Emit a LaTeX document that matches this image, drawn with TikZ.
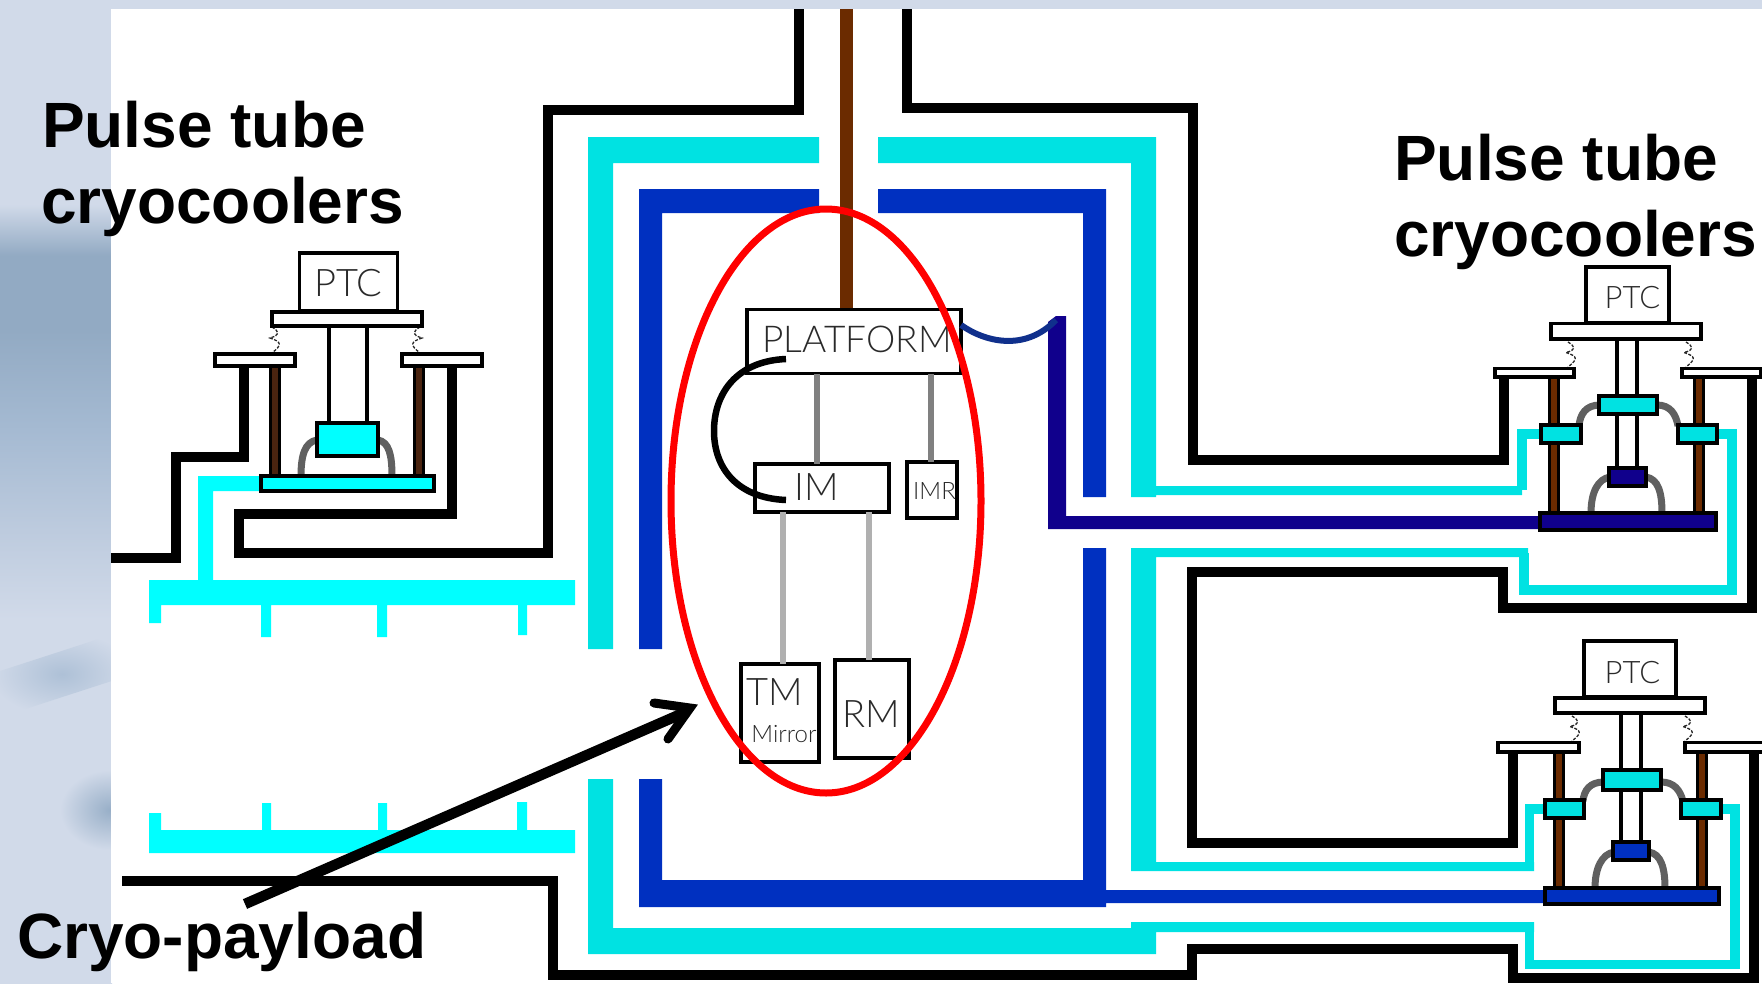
\documentclass[tikz,border=0pt]{standalone}
\usepackage{fontspec}
\setmainfont{Liberation Sans}
\newfontfamily\thinfont{Lato Light}
\definecolor{bgblue}{HTML}{D1DAE9}
\definecolor{bandA}{HTML}{92AAC3}
\definecolor{bandB}{HTML}{A5BAD2}
\definecolor{bandC}{HTML}{BDCBDE}
\definecolor{turq}{HTML}{00E2E2}
\definecolor{cyn}{HTML}{00FFFF}
\definecolor{blu}{HTML}{0030C0}
\definecolor{nvy}{HTML}{10008C}
\definecolor{brn}{HTML}{6B2B00}
\definecolor{dbrn}{HTML}{4A2410}
\definecolor{dgrey}{HTML}{606060}
\definecolor{mgrey}{HTML}{808080}
\definecolor{lgrey}{HTML}{B0B0B0}
\definecolor{txt}{HTML}{2A2A2A}
\definecolor{flex}{HTML}{10308C}
\pgfdeclareverticalshading{leftband}{100bp}{
 color(0bp)=(bgblue);
 color(43.5bp)=(bgblue);
 color(48bp)=(bandC);
 color(53.1bp)=(bandB);
 color(58.2bp)=(bandA);
 color(62bp)=(bandA);
 color(64.6bp)=(bgblue);
 color(100bp)=(bgblue)}
\tikzset{
 x=1pt,y=-1pt,
 pipe/.style={line width=#1,line join=miter,line cap=butt},
 blk/.style={draw=black,pipe=10},
 bx/.style={draw=black,line width=3.5,fill=white,line join=miter},
 lbox/.style={bx,inner sep=0,outer sep=0},
 post/.style={draw=black,line width=11.5},
 postin/.style={draw=brn,line width=6},
 arcw/.style={draw=dgrey,line width=7},
 turqfill/.style={fill=turq,draw=none},
 blufill/.style={fill=blu,draw=none},
 big/.style={font=\fontsize{64}{64}\selectfont\bfseries,anchor=base west,inner sep=0,text=black},
 thinl/.style={font=\thinfont\fontsize{#1}{#1}\selectfont,text=txt,inner sep=0,anchor=center},
 spr/.style={draw=black!85,line width=1.3,dash pattern=on 3pt off 1.5pt},
}
\newcommand{\squig}[4]{% x y-top y-bot dir
 \draw[spr] (#1,#2) .. controls ({#1+#4*8},{#2+5}) and ({#1+#4*8},{#2+8}) .. ({#1-#4*2},{(#2+#3)/2-2}) .. controls ({#1+#4*10},{(#2+#3)/2+2}) and ({#1+#4*10},{#3-8}) .. (#1,#3);}
\begin{document}
\begin{tikzpicture}
\useasboundingbox (0,0) rectangle (1762,983);
% background
\fill[bgblue] (0,0) rectangle (1762,983);
\shade[shading=leftband] (0,0) rectangle (112,983);
\begin{scope}
\clip (0,600) rectangle (112,983);
\shade[inner color=bandB!80!bgblue,outer color=bgblue,shading=radial,rotate around={18:(62,674)}] (-6,652) rectangle (130,696);
\shade[inner color=bandA!70!bandB,outer color=bgblue,shading=radial] (60,770) rectangle (160,850);
\end{scope}
\fill[white] (111,9) rectangle (1762,983);

% black walls
\draw[blk] (111,558) -- (176,558) -- (176,457) -- (244,457) -- (244,367);
\draw[blk] (452,367) -- (452,514) -- (238.5,514) -- (238.5,553) -- (548,553) -- (548,110) -- (799,110) -- (799,9);
\draw[blk] (907,9) -- (907,108) -- (1193,108) -- (1193,460) -- (1504,460) -- (1504,378);
\draw[blk] (1752,378) -- (1752,608) -- (1503,608) -- (1503,572) -- (1192,572) -- (1192,843) -- (1513,843) -- (1513,753);
\draw[blk] (122,881) -- (553,881) -- (553,975) -- (1192,975) -- (1192,949) -- (1513,949) -- (1513,978) -- (1754,978) -- (1754,753);

% thermal shield outer (turquoise)
\path[turqfill] (819,137) -- (588,137) -- (588,649) -- (613,649) -- (613,163) -- (819,163) -- cycle;
\path[turqfill] (878,137) -- (1156,137) -- (1156,486) -- (1522,486) -- (1522,495) -- (1156,495) -- (1156,497) -- (1131,497) -- (1131,163) -- (878,163) -- cycle;
\path[turqfill] (1131,548) -- (1528,548) -- (1528,557) -- (1156,557) -- (1156,862) -- (1534,862) -- (1534,871) -- (1131,871) -- cycle;
\path[turqfill] (588,779) -- (613,779) -- (613,928) -- (1131,928) -- (1131,922) -- (1534,922) -- (1534,932) -- (1156,932) -- (1156,954) -- (588,954) -- cycle;
\draw[draw=turq,pipe=9.5] (1540,434) -- (1522,434) -- (1522,490);
\draw[draw=turq,pipe=9.5] (1524,553) -- (1524,590) -- (1732,590) -- (1732,434) -- (1718,434);
\draw[draw=turq,pipe=9.5] (1544,809) -- (1529.5,809) -- (1529.5,867);
\draw[draw=turq,pipe=9.5] (1529.5,927) -- (1529.5,964.5) -- (1735,964.5) -- (1735,809) -- (1722,809);

% inner shield (blue)
\path[blufill] (819,189) -- (639,189) -- (639,649) -- (662,649) -- (662,213) -- (819,213) -- cycle;
\path[blufill] (878,189) -- (1106,189) -- (1106,497) -- (1083,497) -- (1083,213) -- (878,213) -- cycle;
\path[blufill] (1083,548) -- (1106,548) -- (1106,890) -- (1544,890) -- (1544,903) -- (1106,903) -- (1106,907) -- (639,907) -- (639,779) -- (662,779) -- (662,880) -- (1083,880) -- cycle;

% navy link
\path[fill=nvy] (1048,322) -- (1056,316) -- (1066,316) -- (1066,516) -- (1539,516) -- (1539,529) -- (1048,529) -- cycle;

% cyan manifolds
\path[fill=cyn] (149,580) -- (198,580) -- (198,476) -- (261,476) -- (261,491) -- (213,491) -- (213,580) -- (575,580) -- (575,605) -- (527,605) -- (527,635) -- (518,635) -- (518,605) -- (387,605) -- (387,637) -- (377,637) -- (377,605) -- (271,605) -- (271,637) -- (261,637) -- (261,605) -- (161,605) -- (161,623) -- (149,623) -- cycle;
\path[fill=cyn] (149,813) -- (161,813) -- (161,830) -- (262,830) -- (262,803) -- (271,803) -- (271,830) -- (378,830) -- (378,803) -- (387,803) -- (387,830) -- (517,830) -- (517,802) -- (527,802) -- (527,830) -- (575,830) -- (575,853) -- (149,853) -- cycle;

% --- left cooler
\draw[post] (275,367) -- (275,476);\draw[draw=dbrn,line width=6] (275,367) -- (275,476);
\draw[post] (419,367) -- (419,476);\draw[draw=dbrn,line width=6] (419,367) -- (419,476);
\draw[arcw] (317,440) .. controls (305,442) and (301,455) .. (301,476);
\draw[arcw] (378,440) .. controls (389,442) and (392,455) .. (392,476);
\squig{272}{327}{353}{1}
\squig{420}{327}{353}{-1}
\draw[black,line width=3.5] (329,326) -- (329,423) (367,326) -- (367,423);
\draw[bx] (215,354) rectangle (295,366);
\draw[bx] (402,354) rectangle (482,366);
\draw[bx,fill=cyn] (317,423) rectangle (378,456);
\draw[bx,fill=cyn] (261,476) rectangle (434,491);
\node[lbox,minimum width=98,minimum height=58] (ptcA) at (348.5,282) {};
\node[thinl=38] (ptcAt) at (348.5,283) {PTC};
\draw[bx] (272,312) rectangle (422,326);

% --- upper right cooler
\draw[post] (1554,378) -- (1554,512);\draw[postin] (1554,378) -- (1554,512);
\draw[post] (1699,378) -- (1699,512);\draw[postin] (1699,378) -- (1699,512);
\draw[arcw] (1600,405) .. controls (1586,405) and (1580,414) .. (1579,426);
\draw[arcw] (1657,405) .. controls (1670,405) and (1676,414) .. (1678,426);
\draw[arcw] (1610,477) .. controls (1598,479) and (1591,492) .. (1591,513);
\draw[arcw] (1646,477) .. controls (1658,479) and (1662,492) .. (1662,513);
\squig{1568}{342}{367}{1}
\squig{1686}{342}{367}{1}
\draw[black,line width=3.5] (1617,340) -- (1617,467) (1637,340) -- (1637,467);
\draw[bx] (1495,368.5) rectangle (1574,377);
\draw[bx] (1682,368.5) rectangle (1761,377);
\draw[bx,fill=turq] (1599,396) rectangle (1657,414);
\draw[bx,fill=turq] (1541,425) rectangle (1581,443);
\draw[bx,fill=turq] (1678,425) rectangle (1717,443);
\draw[bx,fill=nvy] (1609,468) rectangle (1646,486);
\draw[bx,fill=nvy] (1540,513) rectangle (1716,530);
\node[lbox,minimum width=83,minimum height=56] (ptcB) at (1627.5,295) {};
\node[thinl=31] (ptcBt) at (1632.5,298) {PTC};
\draw[bx] (1551,323.5) rectangle (1701,339);

% --- lower right cooler
\draw[post] (1559,753) -- (1559,887);\draw[postin] (1559,753) -- (1559,887);
\draw[post] (1702,753) -- (1702,887);\draw[postin] (1702,753) -- (1702,887);
\draw[arcw] (1604,782) .. controls (1590,782) and (1584,790) .. (1583,801);
\draw[arcw] (1661,782) .. controls (1674,782) and (1680,790) .. (1683,801);
\draw[arcw] (1614,852) .. controls (1602,854) and (1595,868) .. (1595,888);
\draw[arcw] (1649,852) .. controls (1661,854) and (1665,868) .. (1665,888);
\squig{1572}{716}{741}{1}
\squig{1685}{716}{741}{1}
\draw[black,line width=3.5] (1621,714) -- (1621,841) (1641,714) -- (1641,841);
\draw[bx] (1498,742.5) rectangle (1579,752);
\draw[bx] (1685,742.5) rectangle (1764,752);
\draw[bx,fill=turq] (1603,770) rectangle (1661,790);
\draw[bx,fill=turq] (1545,800) rectangle (1584,818);
\draw[bx,fill=turq] (1681,800) rectangle (1721,818);
\draw[bx,fill=blu] (1613,842) rectangle (1649,860);
\draw[bx,fill=blu] (1545,888) rectangle (1719,904);
\node[lbox,minimum width=92,minimum height=56] (ptcC) at (1630,669) {};
\node[thinl=31] (ptcCt) at (1632.5,673) {PTC};
\draw[bx] (1555,698) rectangle (1705,713);

% --- payload
\draw[draw=brn,line width=13] (846.5,9) -- (846.5,309);
\node[lbox,minimum width=214,minimum height=64] (platform) at (854,341.5) {};
\node[thinl=37] (platformt) at (857,339) {PLATFORM};
\node[lbox,minimum width=134,minimum height=48] (im) at (822,488) {};
\node[thinl=38] (imt) at (817,487) {IM};
\node[lbox,minimum width=50,minimum height=56] (imr) at (932,490) {};
\node[thinl=24] (imrt) at (934.5,491) {IMR};
\node[lbox,minimum width=78,minimum height=98] (tm) at (780,713) {};
\node[thinl=38] (tmt) at (775,692) {TM};
\node[thinl=24] (mirrort) at (784,734) {Mirror};
\node[lbox,minimum width=74,minimum height=98] (rm) at (872,709) {};
\node[thinl=38] (rmt) at (871,714) {RM};
\draw[draw=mgrey,line width=5.5] (817,374) -- (817,0 |- im.north);
\draw[draw=mgrey,line width=5.5] (931,374) -- (931,0 |- imr.north);
\draw[draw=lgrey,line width=5.5] (783,512) -- (783,0 |- tm.north);
\draw[draw=lgrey,line width=5.5] (869,512) -- (869,0 |- rm.north);
\coordinate (armA) at (786,359);
\coordinate (armB) at (786,500);
\draw[black,line width=6.5] (armA) .. controls (737,361) and (714,393) .. (714,431) .. controls (714,468) and (737,498) .. (armB);
% flexible link
\draw[draw=flex,line width=6] (platform.east |- 0,325) .. controls (985,342) and (1025,352) .. (1056,320);
% ellipse
\draw[red,line width=7] (826,501) ellipse [x radius=155,y radius=292];

% labels and arrow
\node[big] (lab1) at (42,147) {Pulse tube};
\node[big] (lab2) at (41,223) {cryocoolers};
\node[big] (lab3) at (1394,180) {Pulse tube};
\node[big] (lab4) at (1394,256) {cryocoolers};
\node[big] (lab5) at (17,958) {Cryo-payload};
\coordinate (arrowfoot) at (245,904);
\coordinate (arrowtip) at (688,711);
\draw[black,line width=10.5] (arrowfoot) -- (arrowtip);
\draw[black,line width=9,line cap=round,line join=miter] (654,703) -- (690,708) -- (668,739);
\end{tikzpicture}
\end{document}
